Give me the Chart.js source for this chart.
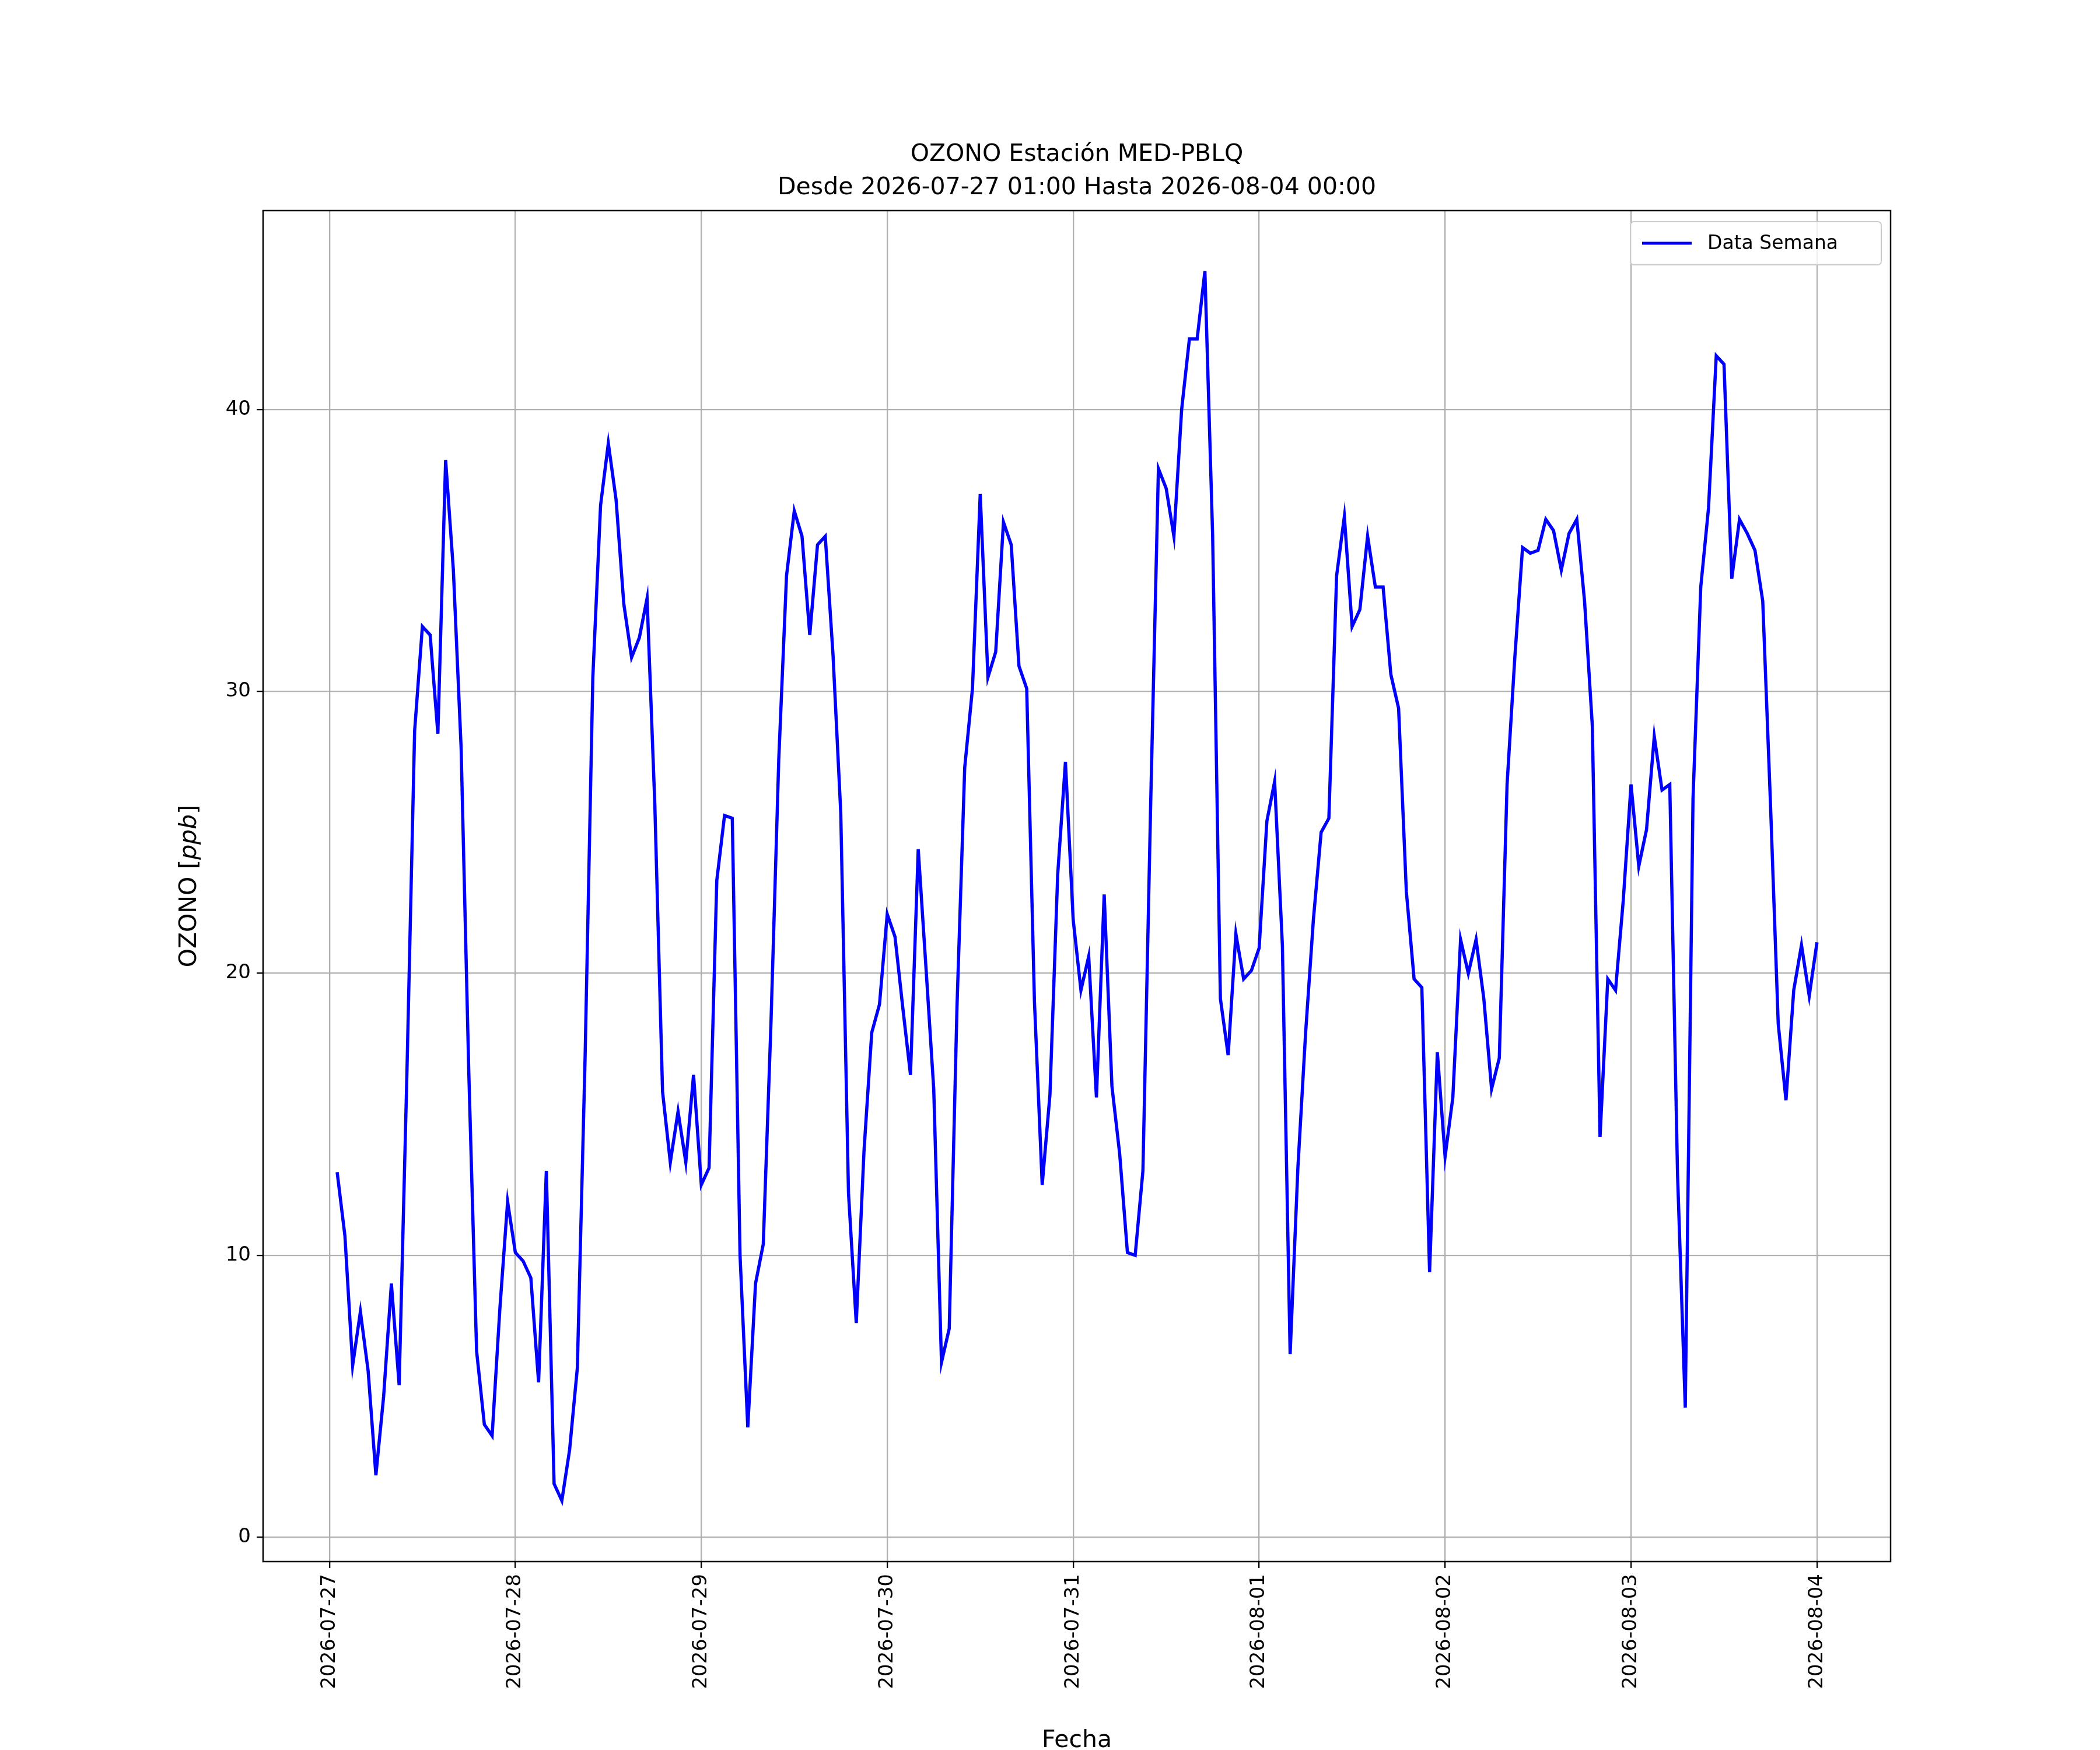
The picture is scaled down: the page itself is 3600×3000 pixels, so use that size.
<!DOCTYPE html>
<html><head><meta charset="utf-8">
<script src="https://cdn.jsdelivr.net/npm/chart.js@4.4.1/dist/chart.umd.min.js"></script>
<style>html,body{margin:0;padding:0;background:#fff}#w{width:3600px;height:3000px}</style>
</head><body><div id="w"><canvas id="c"></canvas></div>
<script>
const titleLines = ["OZONO Estación MED-PBLQ", "Desde 2026-07-27 01:00 Hasta 2026-08-04 00:00"];
const dayLabels = ["2026-07-27","2026-07-28","2026-07-29","2026-07-30","2026-07-31","2026-08-01","2026-08-02","2026-08-03","2026-08-04"];
const seriesName = "Data Semana";
const xTitle = "Fecha";
const yTitleParts = ["OZONO [", "ppb", "]"];
// hourly values starting 2026-07-27 01:00
const ozone = [
12.95,10.7,6.1,8.0,5.9,2.2,5.0,9.0,5.4,16.4,28.6,32.3,32.0,28.5,38.2,34.3,28.0,16.4,6.6,4.0,3.6,8.1,11.9,10.1,
9.8,9.2,5.5,13.0,1.9,1.3,3.1,6.0,17.0,30.5,36.6,38.8,36.8,33.1,31.2,31.9,33.3,26.0,15.8,13.3,15.1,13.3,16.4,12.5,
13.1,23.3,25.6,25.5,10.0,3.9,9.0,10.4,18.3,27.6,34.1,36.4,35.5,32.0,35.2,35.5,31.3,25.7,12.2,7.6,13.7,17.9,18.9,22.1,
21.3,18.8,16.4,24.4,20.2,15.9,6.2,7.4,18.8,27.3,30.1,37.0,30.5,31.4,36.0,35.2,30.9,30.1,19.0,12.5,15.7,23.5,27.5,21.9,
19.4,20.6,15.6,22.8,16.0,13.6,10.1,10.0,13.0,26.0,37.9,37.2,35.5,40.0,42.5,42.5,44.9,35.5,19.1,17.1,21.4,19.8,20.1,20.9,
25.4,26.8,21.0,6.5,13.1,17.9,21.9,25.0,25.5,34.1,36.2,32.3,32.9,35.5,33.7,33.7,30.6,29.4,22.9,19.8,19.5,9.4,17.2,13.5,
15.6,21.2,20.0,21.2,19.1,15.9,17.0,26.7,31.2,35.1,34.9,35.0,36.1,35.7,34.3,35.6,36.1,33.2,28.8,14.2,19.8,19.4,22.6,26.7,
23.8,25.1,28.4,26.5,26.7,12.9,4.6,26.2,33.7,36.5,41.9,41.6,34.0,36.1,35.6,35.0,33.2,26.0,18.2,15.5,19.4,21.0,19.2,21.1
];
const yTicks = [0,10,20,30,40];
const pts = ozone.map((v,i)=>({x:i+1,y:v}));
const F = "DejaVu Sans";
const deco = {
  id:'deco',
  afterDraw(ch){
    const c=ch.ctx, a=ch.chartArea;
    c.save();
    c.strokeStyle='#000'; c.lineWidth=2.5; c.strokeRect(a.left,a.top,a.right-a.left,a.bottom-a.top);
    c.fillStyle='#000'; c.font='41px "'+F+'"'; c.textAlign='center'; c.textBaseline='alphabetic';
    const cx=(a.left+a.right)/2;
    c.fillText(titleLines[0],cx,276); c.fillText(titleLines[1],cx,333);
    // x title
    c.font='41px "'+F+'"'; c.fillText(xTitle,cx,2995);
    // y title rotated
    c.save(); c.translate(336,(a.top+a.bottom)/2); c.rotate(-Math.PI/2);
    const f1='41px "'+F+'"', f2='italic 41px "'+F+'"';
    c.font=f1; const w0=c.measureText(yTitleParts[0]).width, w2=c.measureText(yTitleParts[2]).width;
    c.font=f2; const w1=c.measureText(yTitleParts[1]).width;
    let x=-(w0+w1+w2)/2; c.textAlign='left';
    c.font=f1; c.fillText(yTitleParts[0],x,0); x+=w0;
    c.font=f2; c.fillText(yTitleParts[1],x,0); x+=w1;
    c.font=f1; c.fillText(yTitleParts[2],x,0);
    c.restore();
    // legend
    const lx=2795, ly=380, lw=430, lh=74;
    c.fillStyle='rgba(255,255,255,0.8)'; c.strokeStyle='#ccc'; c.lineWidth=2;
    c.beginPath(); c.roundRect(lx,ly,lw,lh,6); c.fill(); c.stroke();
    c.strokeStyle='#0000ff'; c.lineWidth=5; c.beginPath(); c.moveTo(lx+20,ly+37); c.lineTo(lx+105,ly+37); c.stroke();
    c.fillStyle='#000'; c.font='33px "'+F+'"'; c.textAlign='left'; c.textBaseline='middle';
    c.fillText(seriesName,lx+132,ly+38);
    c.restore();
  }
};
new Chart(document.getElementById('c'),{
  type:'line',
  data:{datasets:[{label:seriesName,data:pts,borderColor:'#0000ff',borderWidth:5.5,pointRadius:0,tension:0,fill:false}]},
  options:{
    responsive:true,maintainAspectRatio:false,animation:false,
    layout:{padding:{top:361,right:359,left:0,bottom:0}},
    plugins:{legend:{display:false},title:{display:false},tooltip:{enabled:false}},
    scales:{
      x:{type:'linear',min:-8.56,max:201.5,
        afterBuildTicks(s){s.ticks=dayLabels.map((d,i)=>({value:i*24}));},
        afterFit(s){s.height=323;},
        ticks:{autoSkip:false,maxRotation:90,minRotation:90,color:'#000',font:{family:F,size:34},padding:10,
          callback:(v)=>dayLabels[Math.round(v/24)]},
        grid:{color:'#b0b0b0',lineWidth:2.3,drawTicks:true,tickLength:11,tickColor:'#000'},
        border:{display:false}
      },
      y:{min:-0.86,max:47.05,
        afterBuildTicks(s){s.ticks=yTicks.map(v=>({value:v}));},
        afterFit(s){s.width=451;},
        ticks:{color:'#000',font:{family:F,size:34},padding:10},
        grid:{color:'#b0b0b0',lineWidth:2.3,drawTicks:true,tickLength:11,tickColor:'#000'},
        border:{display:false}
      }
    }
  },
  plugins:[deco]
});
</script></body></html>
